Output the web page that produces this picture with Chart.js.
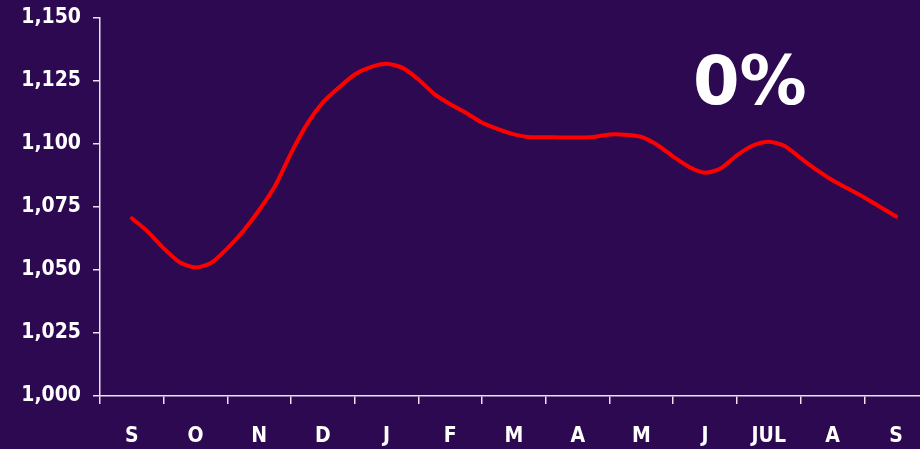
<!DOCTYPE html>
<html>
<head>
<meta charset="utf-8">
<script src="https://cdn.jsdelivr.net/npm/chart.js@4.4.1/dist/chart.umd.min.js"></script>
<style>
  html, body { margin: 0; padding: 0; background: #2c0950; overflow: hidden; }
  #wrap { width: 928px; height: 449px; }
  canvas { display: block; }
</style>
</head>
<body>
<div id="wrap"><canvas id="c" width="928" height="449"></canvas></div>
<script>
// Month labels (category axis)
const monthLabels = ['S', 'O', 'N', 'D', 'J', 'F', 'M', 'A', 'M', 'J', 'JUL', 'A', 'S'];
// Weekly values, starting at mid-September (first S) to mid-September (last S)
const weeklyValues = [
  1070.5, 1065.2, 1058.6, 1053.1, 1051.0, 1052.9, 1058.6, 1065.5,
  1073.8, 1083.4, 1096.4, 1107.9, 1116.5, 1122.4, 1127.6, 1130.5,
  1131.8, 1130.2, 1125.6, 1119.8, 1115.8, 1112.3, 1108.4, 1105.9,
  1103.8, 1102.7, 1102.7, 1102.6, 1102.6, 1102.8, 1103.8, 1103.7,
  1102.8, 1099.6, 1095.0, 1090.9, 1088.6, 1090.4, 1095.5, 1099.4,
  1100.9, 1099.2, 1094.4, 1089.7, 1085.6, 1082.2, 1078.8, 1075.0,
  1071.2
];
const yTicks = [1000, 1025, 1050, 1075, 1100, 1125, 1150];
const annotationText = '0%';

const FONT = '"DejaVu Sans Condensed", "DejaVu Sans", sans-serif';
const AXIS_COLOR = '#e6e2ee';

const annotationPlugin = {
  id: 'bigText',
  afterDraw(chart) {
    const ctx = chart.ctx;
    ctx.save();
    ctx.fillStyle = '#ffffff';
    ctx.font = 'bold 67px "DejaVu Sans", sans-serif';
    ctx.textAlign = 'left';
    ctx.textBaseline = 'alphabetic';
    ctx.fillText(annotationText, 693, 104);
    ctx.restore();
  }
};

new Chart(document.getElementById('c'), {
  type: 'line',
  data: {
    datasets: [{
      data: weeklyValues.map((v, i) => ({ x: i, y: v })),
      xAxisID: 'xw',
      yAxisID: 'y',
      borderColor: '#ff0000',
      borderWidth: 4,
      pointRadius: 0,
      tension: 0.25,
      fill: false,
      borderCapStyle: 'round',
      borderJoinStyle: 'round'
    }]
  },
  options: {
    responsive: false,
    devicePixelRatio: 1,
    animation: false,
    layout: { padding: { left: 0, right: 0, top: 18, bottom: 0 } },
    plugins: { legend: { display: false }, tooltip: { enabled: false }, title: { display: false } },
    scales: {
      xw: {
        type: 'linear',
        display: false,
        min: -2,
        max: 50
      },
      x: {
        type: 'category',
        labels: monthLabels,
        offset: true,
        position: 'bottom',
        grid: {
          offset: true,
          drawOnChartArea: false,
          drawTicks: true,
          tickLength: 8,
          color: AXIS_COLOR,
          lineWidth: 1.5
        },
        border: { display: true, color: AXIS_COLOR, width: 1.5 },
        ticks: {
          color: '#ffffff',
          font: { family: FONT, size: 21, weight: 'bold' },
          padding: 20,
          maxRotation: 0,
          autoSkip: false
        },
        afterFit(scale) { scale.height = 53; scale.paddingLeft = 0; scale.paddingRight = 0; }
      },
      y: {
        type: 'linear',
        min: 1000,
        max: 1150,
        afterBuildTicks(scale) { scale.ticks = yTicks.map(v => ({ value: v })); },
        grid: {
          drawOnChartArea: false,
          drawTicks: true,
          tickLength: 7,
          color: AXIS_COLOR,
          lineWidth: 1.5
        },
        border: { display: true, color: AXIS_COLOR, width: 1.5 },
        ticks: {
          color: '#ffffff',
          font: { family: FONT, size: 21, weight: 'bold' },
          padding: 12,
          callback: (v) => Number(v).toLocaleString('en-US')
        },
        afterFit(scale) { scale.width = 100; scale.paddingTop = 0; scale.paddingBottom = 0; }
      }
    }
  },
  plugins: [annotationPlugin]
});
</script>
</body>
</html>
